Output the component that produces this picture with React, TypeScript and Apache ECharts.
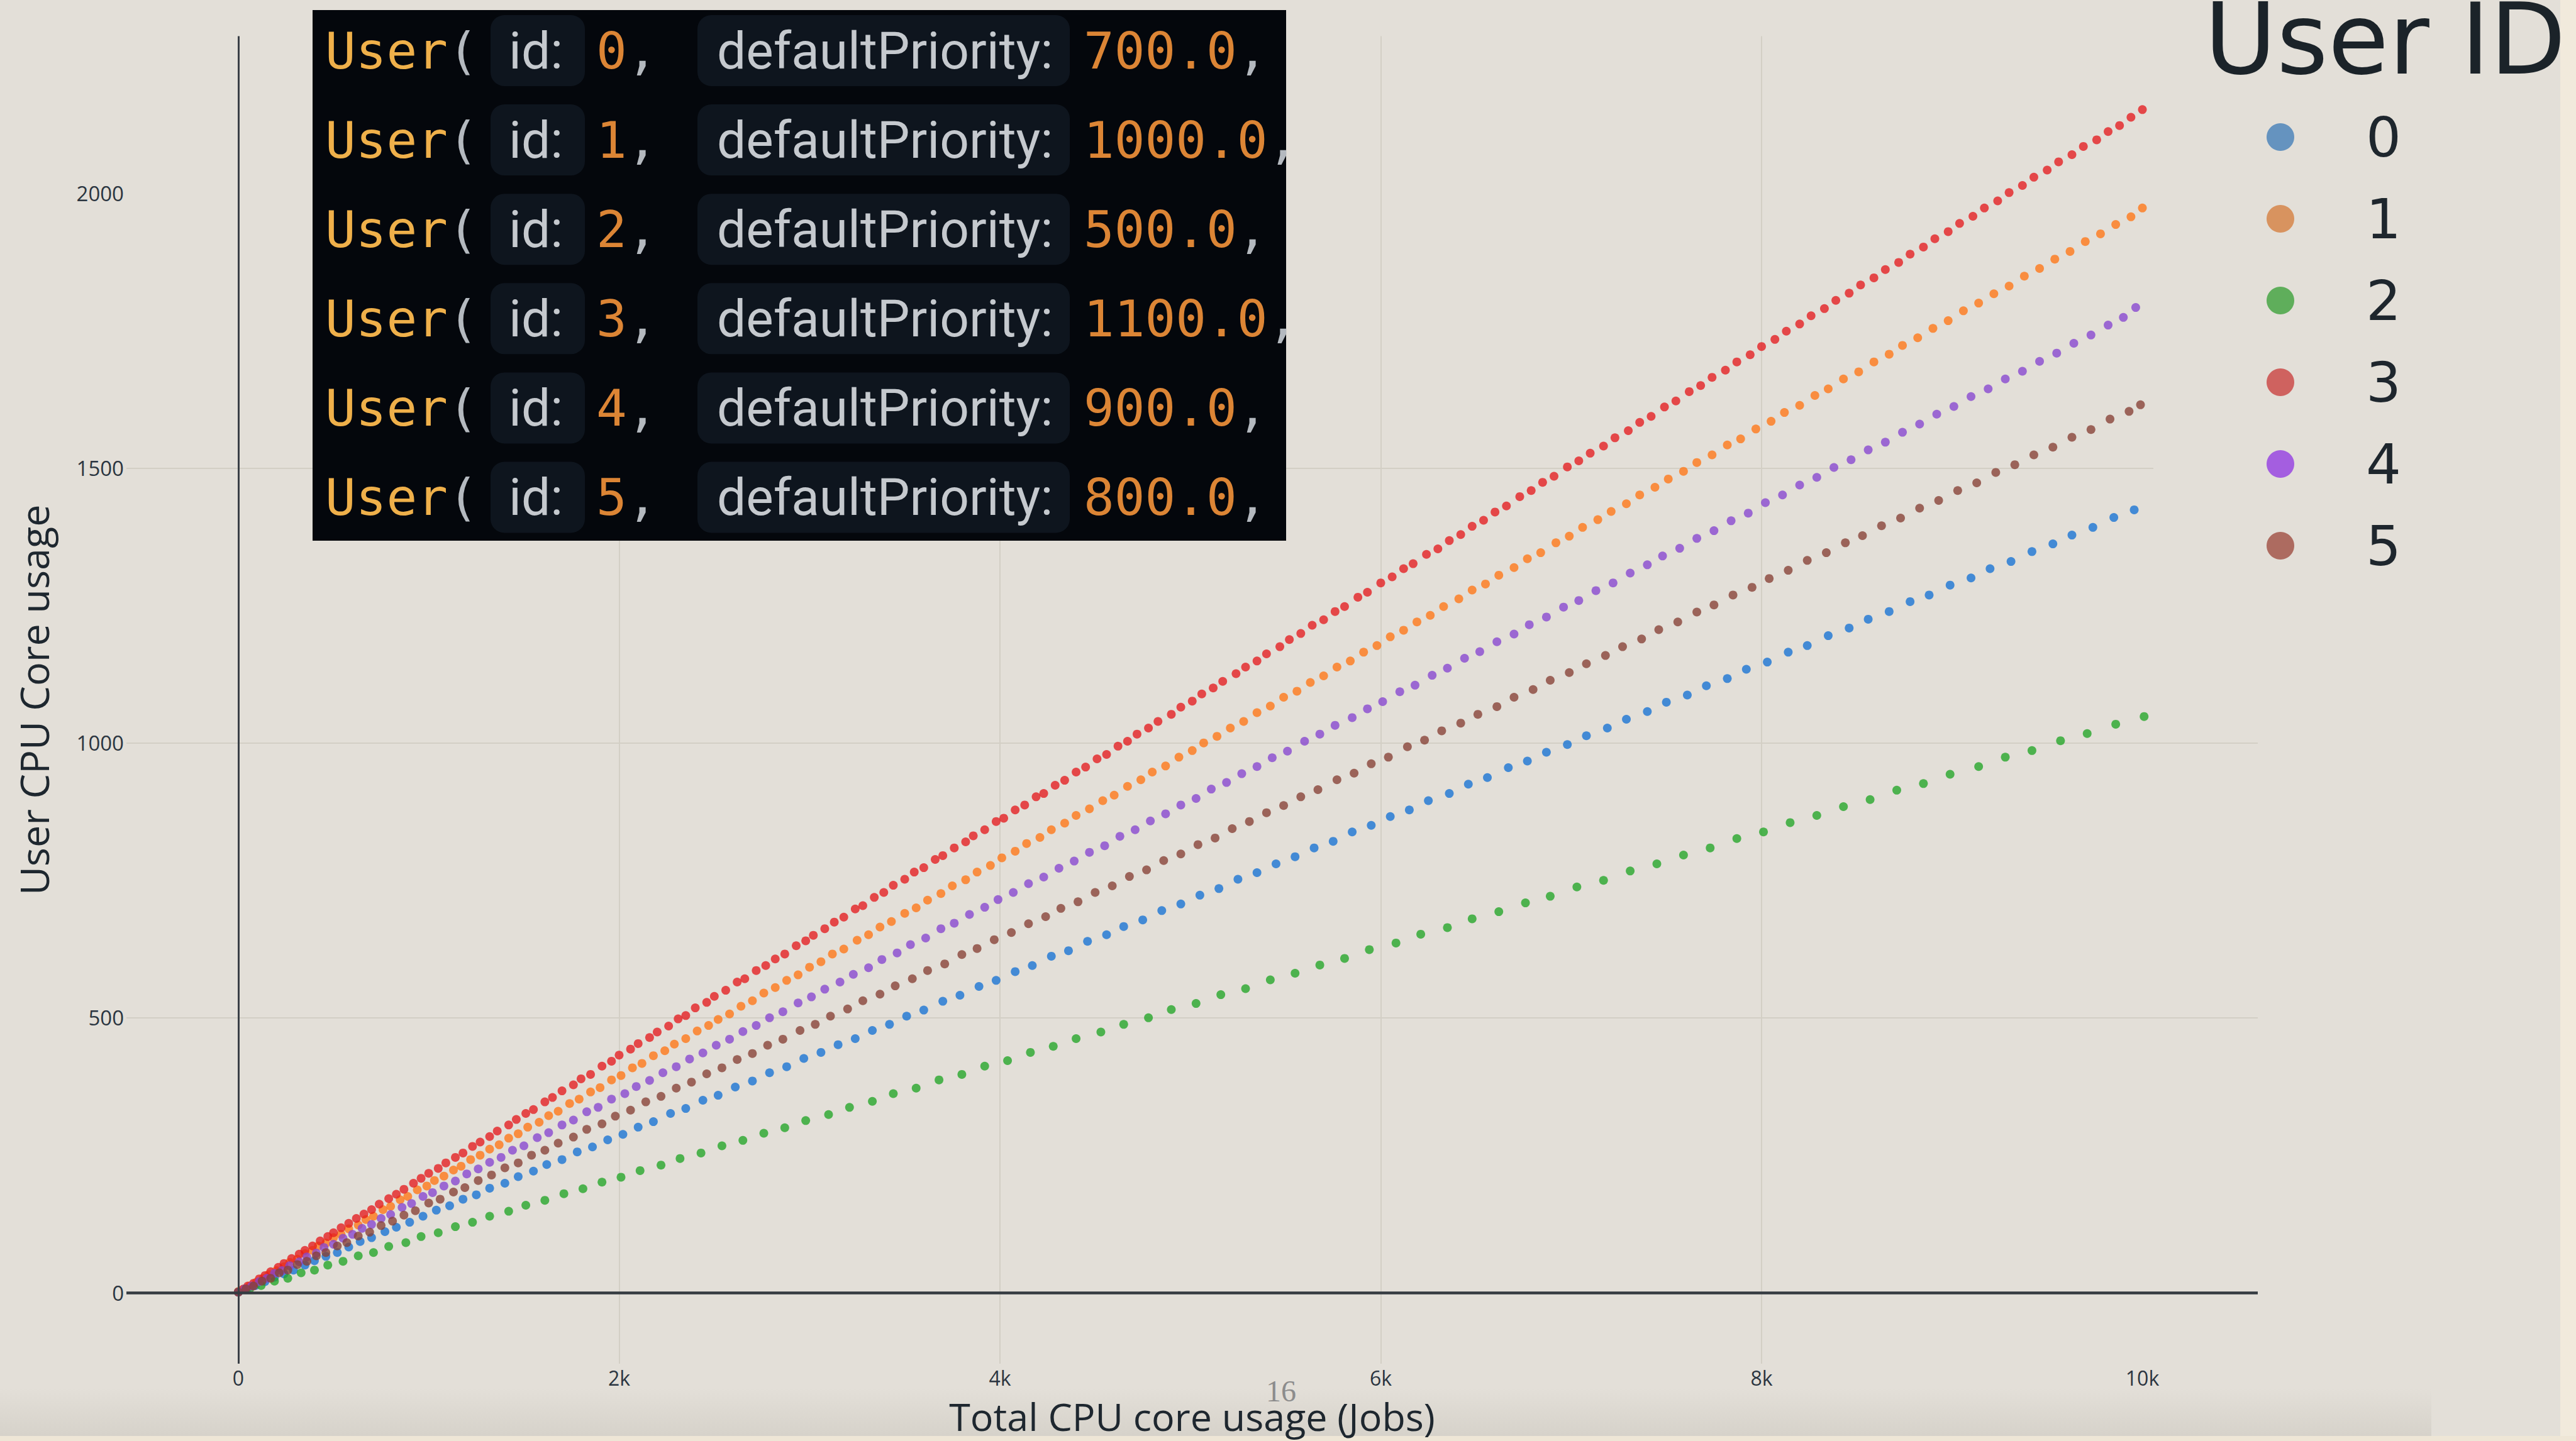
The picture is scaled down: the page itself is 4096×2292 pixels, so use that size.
import React, { useEffect, useRef } from "react";
import * as echarts from "echarts";

// ---------- DATA ----------
const userIds = ["0", "1", "2", "3", "4", "5"];
const priorities = ["700.0", "1000.0", "500.0", "1100.0", "900.0", "800.0"];
const xTickValues = [0, 2000, 4000, 6000, 8000, 10000];
const xTickLabels = ["0", "2k", "4k", "6k", "8k", "10k"];
const yTickValues = [0, 500, 1000, 1500, 2000];
const yTickLabels = ["0", "500", "1000", "1500", "2000"];
const xTitle = "Total CPU core usage (Jobs)";
const yTitle = "User CPU Core usage";
const legendTitle = "User ID";
const pageNumber = "16";

const user0 = [[0,1],[45,6],[90,13],[140,20],[190,28],[240,34],[290,41],[350,50],[400,58],[460,66],[520,73],[580,83],[640,93],[700,100],[770,111],[830,119],[900,128],[970,139],[1040,150],[1110,158],[1180,170],[1250,178],[1320,190],[1400,199],[1470,211],[1550,221],[1620,233],[1700,242],[1780,256],[1860,265],[1940,278],[2020,288],[2100,301],[2180,311],[2270,326],[2350,335],[2440,350],[2520,359],[2610,374],[2700,385],[2790,400],[2880,411],[2970,426],[3060,437],[3150,451],[3240,462],[3330,477],[3420,488],[3510,503],[3600,514],[3700,530],[3790,541],[3890,557],[3980,568],[4080,584],[4170,595],[4270,612],[4360,622],[4460,639],[4560,651],[4650,666],[4750,678],[4850,695],[4950,707],[5050,723],[5150,735],[5250,752],[5350,764],[5450,780],[5550,793],[5650,809],[5750,821],[5850,838],[5950,850],[6050,866],[6150,878],[6250,895],[6360,908],[6460,925],[6560,937],[6670,955],[6770,967],[6870,983],[6980,997],[7080,1013],[7190,1027],[7290,1043],[7400,1057],[7500,1074],[7610,1087],[7710,1104],[7820,1117],[7920,1134],[8030,1147],[8140,1165],[8240,1177],[8350,1195],[8460,1209],[8560,1225],[8670,1239],[8780,1257],[8880,1269],[8990,1287],[9100,1300],[9200,1317],[9310,1330],[9420,1348],[9530,1362],[9630,1378],[9740,1392],[9850,1410],[9957,1424]];
const user1 = [[0,2],[30,7],[60,12],[95,19],[130,26],[160,33],[200,40],[240,47],[270,55],[310,61],[350,71],[390,77],[420,85],[460,90],[500,100],[540,106],[580,116],[630,123],[670,133],[710,139],[760,151],[800,157],[850,169],[890,175],[940,187],[990,194],[1030,204],[1080,212],[1130,223],[1170,230],[1220,242],[1270,250],[1320,261],[1370,269],[1420,281],[1470,289],[1520,301],[1580,310],[1630,322],[1680,330],[1740,344],[1790,352],[1850,365],[1900,373],[1960,387],[2010,395],[2070,409],[2120,417],[2180,431],[2240,440],[2290,452],[2350,462],[2410,476],[2470,486],[2520,497],[2580,507],[2640,521],[2700,531],[2760,545],[2820,555],[2880,568],[2940,578],[3000,592],[3060,602],[3120,616],[3180,625],[3250,641],[3310,651],[3370,665],[3430,675],[3500,690],[3560,700],[3620,714],[3690,726],[3750,740],[3820,751],[3880,765],[3950,777],[4010,791],[4080,803],[4140,817],[4210,828],[4270,842],[4340,854],[4400,868],[4470,880],[4540,895],[4600,905],[4670,921],[4740,933],[4800,947],[4870,958],[4940,974],[5010,986],[5070,1000],[5140,1012],[5210,1027],[5280,1039],[5350,1055],[5420,1067],[5490,1083],[5560,1094],[5630,1110],[5700,1122],[5770,1138],[5840,1149],[5910,1165],[5980,1177],[6050,1193],[6120,1205],[6190,1220],[6260,1232],[6330,1248],[6410,1262],[6480,1278],[6550,1289],[6620,1305],[6700,1319],[6770,1335],[6840,1346],[6920,1364],[6990,1376],[7060,1392],[7140,1406],[7210,1421],[7290,1435],[7360,1451],[7440,1465],[7510,1480],[7590,1494],[7660,1510],[7740,1524],[7820,1542],[7890,1553],[7970,1571],[8050,1585],[8120,1601],[8200,1614],[8280,1632],[8350,1644],[8430,1662],[8510,1675],[8590,1693],[8670,1707],[8740,1723],[8820,1737],[8900,1754],[8980,1768],[9060,1786],[9140,1800],[9220,1817],[9300,1831],[9380,1849],[9460,1863],[9540,1880],[9620,1894],[9700,1912],[9780,1926],[9860,1943],[9940,1957],[10000,1973]];
const user2 = [[0,1],[60,7],[120,13],[190,21],[260,26],[330,36],[400,41],[470,50],[550,57],[630,67],[710,73],[790,84],[880,91],[960,102],[1050,109],[1140,120],[1230,128],[1320,139],[1420,148],[1510,159],[1610,168],[1710,180],[1810,189],[1910,201],[2010,210],[2110,222],[2220,232],[2320,244],[2430,254],[2540,267],[2650,277],[2760,290],[2870,300],[2980,313],[3100,324],[3210,337],[3330,348],[3440,362],[3560,372],[3680,387],[3800,397],[3920,412],[4040,422],[4160,437],[4280,448],[4400,462],[4530,474],[4650,488],[4780,500],[4900,515],[5030,526],[5160,542],[5290,553],[5420,569],[5550,581],[5680,596],[5810,608],[5940,624],[6080,636],[6210,652],[6350,664],[6480,680],[6620,693],[6760,709],[6890,721],[7030,738],[7170,750],[7310,767],[7450,780],[7590,796],[7730,809],[7870,826],[8010,838],[8150,855],[8290,868],[8430,884],[8570,897],[8710,914],[8850,926],[8990,943],[9140,957],[9280,974],[9420,986],[9570,1004],[9710,1017],[9860,1034],[10009,1048]];
const user3 = [[0,1],[25,6],[50,12],[80,17],[110,25],[140,31],[170,38],[210,46],[240,53],[280,62],[320,70],[350,77],[390,85],[430,94],[470,102],[500,109],[540,118],[580,126],[620,135],[660,143],[700,151],[740,161],[790,171],[830,179],[870,188],[920,199],[960,208],[1000,217],[1050,226],[1090,236],[1140,246],[1180,254],[1230,266],[1270,274],[1320,284],[1360,294],[1420,305],[1460,315],[1510,326],[1550,333],[1610,347],[1650,355],[1700,367],[1760,378],[1800,389],[1850,397],[1910,412],[1960,421],[2000,432],[2060,443],[2100,453],[2160,464],[2200,474],[2260,485],[2310,498],[2350,504],[2400,518],[2460,528],[2500,539],[2560,550],[2620,565],[2660,571],[2720,586],[2770,595],[2820,607],[2870,616],[2930,631],[2980,640],[3020,650],[3080,662],[3130,674],[3180,683],[3240,698],[3280,704],[3340,719],[3390,728],[3440,741],[3500,752],[3550,765],[3600,773],[3660,788],[3700,795],[3760,809],[3820,820],[3860,831],[3920,842],[3980,857],[4020,863],[4080,878],[4130,887],[4190,902],[4230,908],[4290,923],[4340,932],[4400,947],[4450,956],[4510,971],[4560,979],[4620,994],[4670,1003],[4720,1016],[4780,1027],[4830,1039],[4900,1052],[4950,1065],[5010,1076],[5060,1089],[5120,1100],[5170,1112],[5240,1126],[5290,1138],[5350,1149],[5400,1162],[5470,1175],[5520,1188],[5580,1199],[5640,1214],[5700,1224],[5760,1239],[5810,1248],[5880,1265],[5930,1274],[6000,1291],[6060,1302],[6120,1317],[6170,1326],[6240,1343],[6300,1353],[6360,1368],[6420,1379],[6480,1394],[6540,1405],[6600,1420],[6660,1431],[6730,1448],[6790,1459],[6850,1474],[6910,1485],[6980,1502],[7040,1513],[7100,1527],[7170,1540],[7230,1555],[7300,1568],[7360,1583],[7420,1594],[7490,1611],[7550,1622],[7620,1639],[7680,1650],[7740,1665],[7810,1678],[7870,1693],[7940,1706],[8000,1721],[8070,1734],[8130,1749],[8200,1762],[8260,1777],[8330,1790],[8390,1805],[8460,1818],[8520,1833],[8590,1846],[8650,1861],[8720,1874],[8780,1889],[8850,1902],[8910,1917],[8980,1930],[9040,1945],[9110,1958],[9170,1973],[9240,1986],[9300,2001],[9370,2014],[9430,2029],[9500,2042],[9560,2057],[9630,2070],[9690,2085],[9760,2097],[9820,2112],[9880,2123],[9940,2138],[10000,2152]];
const user4 = [[0,1],[35,7],[70,12],[110,20],[150,26],[190,35],[230,40],[270,49],[320,56],[360,65],[410,72],[450,82],[500,88],[550,99],[600,106],[650,117],[700,124],[750,135],[800,142],[860,155],[910,162],[970,175],[1020,182],[1080,194],[1140,203],[1200,216],[1260,225],[1320,237],[1380,246],[1440,259],[1500,267],[1570,282],[1630,291],[1700,305],[1760,314],[1830,329],[1890,337],[1960,352],[2030,362],[2090,375],[2160,386],[2230,400],[2300,411],[2370,425],[2440,436],[2510,450],[2580,461],[2650,475],[2720,486],[2790,500],[2860,511],[2940,527],[3010,538],[3080,552],[3160,565],[3230,579],[3310,591],[3380,606],[3460,618],[3530,633],[3610,645],[3690,662],[3760,672],[3840,688],[3920,701],[3990,715],[4070,728],[4150,744],[4230,756],[4310,772],[4390,785],[4470,801],[4550,813],[4630,830],[4710,842],[4790,858],[4870,871],[4950,887],[5030,899],[5110,916],[5190,928],[5270,944],[5350,957],[5430,973],[5510,985],[5600,1003],[5680,1016],[5760,1032],[5850,1046],[5930,1062],[6010,1075],[6100,1093],[6180,1105],[6270,1123],[6350,1136],[6440,1154],[6520,1166],[6610,1184],[6700,1198],[6780,1215],[6870,1229],[6960,1247],[7040,1259],[7130,1277],[7220,1291],[7310,1309],[7400,1324],[7480,1340],[7570,1354],[7660,1372],[7750,1386],[7840,1404],[7930,1418],[8020,1437],[8110,1451],[8200,1469],[8290,1483],[8380,1501],[8470,1515],[8560,1533],[8650,1547],[8740,1565],[8830,1580],[8920,1598],[9010,1612],[9100,1630],[9190,1644],[9280,1662],[9370,1676],[9460,1694],[9550,1709],[9640,1727],[9730,1742],[9820,1760],[9900,1774],[9965,1792]];
const user5 = [[0,1],[40,7],[80,12],[125,21],[170,26],[215,36],[260,41],[310,51],[360,57],[410,67],[460,73],[520,85],[570,91],[630,103],[690,110],[750,122],[810,130],[870,141],[930,149],[1000,163],[1060,170],[1130,183],[1190,191],[1260,204],[1330,214],[1400,227],[1470,236],[1540,250],[1610,259],[1680,272],[1760,283],[1830,297],[1910,307],[1980,321],[2060,332],[2140,347],[2220,357],[2300,372],[2380,383],[2460,398],[2540,409],[2620,424],[2700,435],[2780,450],[2860,461],[2950,477],[3030,488],[3110,503],[3200,516],[3280,531],[3370,543],[3450,558],[3540,571],[3620,586],[3710,598],[3800,615],[3880,626],[3970,642],[4060,655],[4150,671],[4240,684],[4320,699],[4410,711],[4500,728],[4590,740],[4680,757],[4770,769],[4860,786],[4950,798],[5040,815],[5130,827],[5220,844],[5310,857],[5400,873],[5490,886],[5580,902],[5670,915],[5770,933],[5860,945],[5950,962],[6040,974],[6140,993],[6230,1005],[6320,1022],[6420,1036],[6510,1052],[6610,1066],[6700,1083],[6800,1097],[6890,1114],[6990,1128],[7080,1144],[7180,1159],[7270,1175],[7370,1189],[7460,1206],[7560,1220],[7660,1238],[7750,1251],[7850,1269],[7950,1283],[8040,1299],[8140,1314],[8240,1332],[8340,1346],[8440,1364],[8530,1377],[8630,1395],[8730,1409],[8830,1427],[8930,1441],[9030,1459],[9130,1473],[9230,1492],[9330,1506],[9430,1524],[9530,1538],[9630,1556],[9730,1570],[9830,1589],[9930,1603],[9990,1615]];
const seriesData = [user0, user1, user2, user3, user4, user5];

// ---------- STYLE ----------
const seriesColors = ["#1672d4", "#ff7614", "#22a526", "#e41c1f", "#8745d0", "#874034"];
const legendColors = ["#6593bf", "#d8935f", "#5fae5b", "#cf625f", "#a45ee0", "#ad6b60"];
const BG = "#e3dfd8";
const TXT = "#2b3540";
const MONO = "'DejaVu Sans Mono', monospace";
const PROP = "Roboto, 'Open Sans', sans-serif";

function codeOverlay(): any[] {
  const els: any[] = [];
  const z = 20;
  els.push({ type: "rect", z, shape: { x: 497, y: 16, width: 1548, height: 844 }, style: { fill: "#04070c" } });
  const cw = 81 * 0.602;
  userIds.forEach((id, i) => {
    const cy = 80.5 + i * 142.1;
    const t = (x: number, text: string, fill: string, font: string, size: number) =>
      els.push({ type: "text", z: z + 2, x, y: cy, style: { text, fill, fontFamily: font, fontSize: size, lineHeight: 100, verticalAlign: "middle", align: "left" } });
    els.push({ type: "rect", z: z + 1, shape: { x: 780, y: cy - 56.5, width: 150, height: 113, r: 22 }, style: { fill: "#0e151e" } });
    els.push({ type: "rect", z: z + 1, shape: { x: 1109, y: cy - 56.5, width: 592, height: 113, r: 22 }, style: { fill: "#0e151e" } });
    t(517, "User", "#efb04a", MONO, 81);
    t(517 + 4 * cw, "(", "#b4b9bf", MONO, 81);
    t(809, "id:", "#c5c9ce", PROP, 82);
    t(948, id, "#dc8535", MONO, 81);
    t(948 + cw, ",", "#b4b9bf", MONO, 81);
    t(1140, "defaultPriority:", "#c5c9ce", PROP, 82);
    t(1723, priorities[i], "#dc8535", MONO, 81);
    t(1723 + priorities[i].length * cw, ",", "#b4b9bf", MONO, 81);
  });
  return els;
}

export default function App() {
  const ref = useRef<HTMLDivElement>(null);
  useEffect(() => {
    if (!ref.current) return;
    const chart = echarts.init(ref.current, null, { renderer: "svg" });
    const scatter = seriesData.map((d, i) => ({
      name: userIds[i],
      type: "scatter",
      data: d,
      symbol: "circle",
      symbolSize: 14,
      itemStyle: { color: seriesColors[i], opacity: 0.78 },
      z: 3,
    }));
    const option: any = {
      animation: false,
      backgroundColor: BG,
      textStyle: { fontFamily: "'Open Sans', sans-serif" },
      grid: { left: 201, top: 57.5, width: 3389, height: 2111.5, containLabel: false },
      xAxis: {
        type: "value",
        min: -587.6,
        max: 10606,
        axisLine: { show: false, onZero: false },
        axisTick: { show: false, customValues: xTickValues },
        axisLabel: {
          customValues: xTickValues,
          formatter: (v: number) => xTickLabels[xTickValues.indexOf(v)] ?? "",
          fontSize: 32,
          lineHeight: 28,
          color: TXT,
          margin: 8,
          fontFamily: "'Open Sans', sans-serif",
        },
        splitLine: { show: true, showMinLine: false, showMaxLine: false, lineStyle: { color: "#d3cfc5", width: 2 } },
        name: xTitle,
        nameLocation: "middle",
        nameGap: 63,
        nameTextStyle: { fontSize: 61, lineHeight: 40, color: "#1e272f", fontFamily: "'Open Sans', sans-serif" },
      },
      yAxis: {
        type: "value",
        min: -129.2,
        max: 2285.6,
        axisLine: { show: false, onZero: false },
        axisTick: { show: false, customValues: yTickValues },
        axisLabel: {
          customValues: yTickValues,
          formatter: (v: number) => yTickLabels[yTickValues.indexOf(v)] ?? "",
          fontSize: 33,
          color: TXT,
          margin: 4,
          fontFamily: "'Open Sans', sans-serif",
        },
        splitLine: { show: true, showMinLine: false, showMaxLine: false, lineStyle: { color: "#d3cfc5", width: 2 } },
        name: yTitle,
        nameLocation: "middle",
        nameGap: 116,
        nameTextStyle: { fontSize: 63, color: "#1e272f", fontFamily: "'Open Sans', sans-serif" },
      },
      legend: {
        show: true,
        orient: "vertical",
        left: 3604,
        top: 174,
        padding: 0,
        itemGap: 42,
        itemWidth: 262,
        itemHeight: 44,
        icon: "circle",
        selectedMode: false,
        textStyle: { fontSize: 88, color: "#1e262d", fontFamily: "'DejaVu Sans', Verdana, sans-serif" },
        data: userIds.map((id, i) => ({ name: id, icon: "circle", itemStyle: { color: legendColors[i], opacity: 1 } })),
      },
      series: [
        {
          name: "zero-x",
          type: "line",
          data: [],
          z: 2,
          markLine: {
            silent: true,
            symbol: "none",
            label: { show: false },
            lineStyle: { color: "#3a4046", width: 3, type: "solid" },
            data: [{ xAxis: 0 }],
          },
        },
        {
          name: "zero-y",
          type: "line",
          data: [],
          z: 2,
          markLine: {
            silent: true,
            symbol: "none",
            label: { show: false },
            lineStyle: { color: "#353b41", width: 4.5, type: "solid" },
            data: [{ yAxis: 0 }],
          },
        },
        ...scatter,
      ],
      graphic: [
        { type: "rect", z: -5, shape: { x: 0, y: 2209, width: 3866, height: 75 },
          style: { fill: new echarts.graphic.LinearGradient(0, 0, 0, 1, [{ offset: 0, color: "rgba(214,210,202,0)" }, { offset: 1, color: "rgba(214,210,202,1)" }]) } },
        { type: "rect", z: -4, shape: { x: 4071, y: 0, width: 25, height: 2292 }, style: { fill: "#f1eadc" } },
        { type: "rect", z: -4, shape: { x: 0, y: 2284, width: 4096, height: 8 }, style: { fill: "#eee6d6" } },
        { type: "rect", z: 1, shape: { x: 3424, y: 0, width: 647, height: 935 }, style: { fill: BG } },
        { type: "text", z: 5, x: 3505, y: 62, style: { text: legendTitle, fontSize: 157, lineHeight: 120, fill: "#1b2329", fontFamily: "'DejaVu Sans', Verdana, sans-serif", verticalAlign: "middle", align: "left" } },
        { type: "text", z: 5, x: 2037, y: 2212, style: { text: pageNumber, fontSize: 48, lineHeight: 30, fill: "#8c8c8c", fontFamily: "'Liberation Serif', serif", verticalAlign: "middle", align: "center" } },
        ...codeOverlay(),
      ],
    };
    chart.setOption(option);
    return () => chart.dispose();
  }, []);
  return <div ref={ref} style={{ position: "fixed", left: 0, top: 0, width: 4096, height: 2292 }} />;
}
